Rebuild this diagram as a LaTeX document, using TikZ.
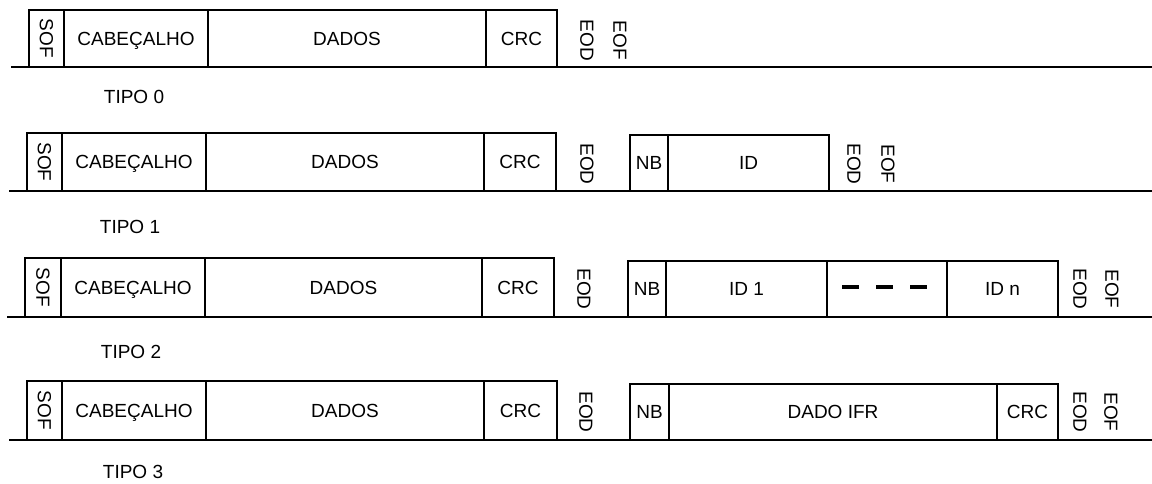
\documentclass[tikz,border=0pt]{standalone}
\usepackage{fontspec}
\setmainfont{Liberation Sans}
\newcommand\labfont{\fontsize{19}{22}\selectfont}
\tikzset{
  fbox/.style={draw=black, line width=1.8pt, rectangle, inner sep=0pt, outer sep=0pt, anchor=south west, font=\labfont},
  fld/.style={fbox, text height=13.6pt, text depth=0pt},
  fldr/.style={fbox},
  vtxt/.style={inner sep=0pt, font=\labfont},
  tipo/.style={inner sep=0pt, font=\labfont, text height=13.6pt, text depth=0pt},
  baseln/.style={line width=1.8pt, draw=black},
  dashmark/.style={line width=3.6pt, dash pattern=on 17pt off 17pt}
}
\begin{document}
\begin{tikzpicture}[x=1pt,y=-1pt]
\useasboundingbox (0,0) rectangle (1152,484);

% ---------- TIPO 0 ----------
\coordinate (b0s) at (11,67);
\coordinate (b0e) at (1152,67);
\draw[baseln] (b0s) -- (b0e);
\node[fldr, minimum width=35pt, minimum height=57pt] (s0) at (29,67) {\rotatebox{-90}{SOF}};
\node[fld, minimum width=144pt, minimum height=57pt] (c0) at (64,67) {CABEÇALHO};
\node[fld, minimum width=278pt, minimum height=57pt] (d0) at (208,67) {DADOS};
\node[fld, minimum width=71pt, minimum height=57pt] (r0) at (486,67) {CRC};
\node[vtxt] (eod0) at (587,40.5) {\rotatebox{-90}{EOD}};
\node[vtxt] (eof0) at (620,40.5) {\rotatebox{-90}{EOF}};
\node[tipo] (t0) at (134,97) {TIPO 0};

% ---------- TIPO 1 ----------
\coordinate (b1s) at (9,191);
\coordinate (b1e) at (1152,191);
\draw[baseln] (b1s) -- (b1e);
\node[fldr, minimum width=35pt, minimum height=58pt] (s1) at (27,191) {\rotatebox{-90}{SOF}};
\node[fld, minimum width=144pt, minimum height=58pt] (c1) at (62,191) {CABEÇALHO};
\node[fld, minimum width=278pt, minimum height=58pt] (d1) at (206,191) {DADOS};
\node[fld, minimum width=72pt, minimum height=58pt] (r1) at (484,191) {CRC};
\node[vtxt] (eod1a) at (587,164) {\rotatebox{-90}{EOD}};
\node[fld, minimum width=38pt, minimum height=56pt] (nb1) at (630,191) {NB};
\node[fld, minimum width=161pt, minimum height=56pt] (id1) at (668,191) {ID};
\node[vtxt] (eod1b) at (854,164) {\rotatebox{-90}{EOD}};
\node[vtxt] (eof1) at (888,164) {\rotatebox{-90}{EOF}};
\node[tipo] (t1) at (130,227) {TIPO 1};

% ---------- TIPO 2 ----------
\coordinate (b2s) at (7,317);
\coordinate (b2e) at (1152,317);
\draw[baseln] (b2s) -- (b2e);
\node[fldr, minimum width=36pt, minimum height=59pt] (s2) at (25,317) {\rotatebox{-90}{SOF}};
\node[fld, minimum width=144pt, minimum height=59pt] (c2) at (61,317) {CABEÇALHO};
\node[fld, minimum width=277pt, minimum height=59pt] (d2) at (205,317) {DADOS};
\node[fld, minimum width=72pt, minimum height=59pt] (r2) at (482,317) {CRC};
\node[vtxt] (eod2a) at (584,289) {\rotatebox{-90}{EOD}};
\node[fld, minimum width=38pt, minimum height=56pt] (nb2) at (628,317) {NB};
\node[fld, minimum width=161pt, minimum height=56pt] (ida2) at (666,317) {ID 1};
\node[fld, minimum width=120pt, minimum height=56pt] (dd2) at (827,317) {};
\node[fld, minimum width=111pt, minimum height=56pt] (idn2) at (947,317) {ID n};
\draw[dashmark] ([xshift=-45pt,yshift=2pt]dd2.center) -- ([xshift=40pt,yshift=2pt]dd2.center);
\node[vtxt] (eod2b) at (1080,289) {\rotatebox{-90}{EOD}};
\node[vtxt] (eof2) at (1112,289) {\rotatebox{-90}{EOF}};
\node[tipo] (t2) at (131,352) {TIPO 2};

% ---------- TIPO 3 ----------
\coordinate (b3s) at (9,440);
\coordinate (b3e) at (1152,440);
\draw[baseln] (b3s) -- (b3e);
\node[fldr, minimum width=35pt, minimum height=59pt] (s3) at (27,440) {\rotatebox{-90}{SOF}};
\node[fld, minimum width=144pt, minimum height=59pt] (c3) at (62,440) {CABEÇALHO};
\node[fld, minimum width=278pt, minimum height=59pt] (d3) at (206,440) {DADOS};
\node[fld, minimum width=73pt, minimum height=59pt] (r3) at (484,440) {CRC};
\node[vtxt] (eod3a) at (586,412) {\rotatebox{-90}{EOD}};
\node[fld, minimum width=39pt, minimum height=56pt] (nb3) at (630,440) {NB};
\node[fld, minimum width=328pt, minimum height=56pt] (dif3) at (669,440) {DADO IFR};
\node[fld, minimum width=61pt, minimum height=56pt] (cr3) at (997,440) {CRC};
\node[vtxt] (eod3b) at (1080,412) {\rotatebox{-90}{EOD}};
\node[vtxt] (eof3) at (1111,412) {\rotatebox{-90}{EOF}};
\node[tipo] (t3) at (133,472) {TIPO 3};
\end{tikzpicture}
\end{document}
